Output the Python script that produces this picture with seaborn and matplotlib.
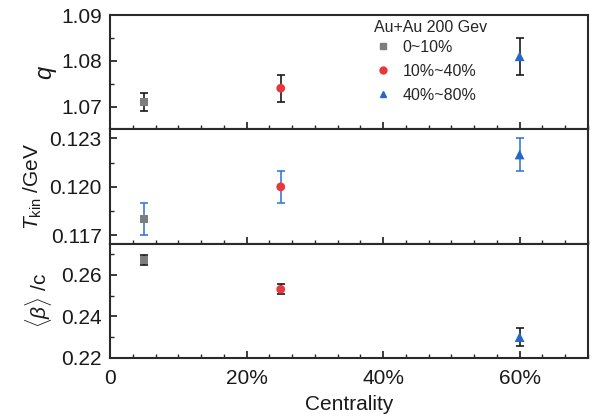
import numpy as np
import pandas as pd
import seaborn as sns
import matplotlib.pyplot as plt
from matplotlib.ticker import MultipleLocator, FixedLocator, FuncFormatter

sns.set_style("ticks")
plt.rcParams['font.family'] = ['Liberation Sans', 'DejaVu Sans']
plt.rcParams['mathtext.fontset'] = 'custom'
plt.rcParams['mathtext.rm'] = 'Liberation Sans'
plt.rcParams['mathtext.it'] = 'Liberation Sans:italic'

# Centrality classes and fit parameters
groups = ["0~10%", "10%~40%", "40%~80%"]
centrality = [5, 25, 60]
q_val = [1.071, 1.074, 1.081]
q_err = [0.002, 0.003, 0.004]
tkin_val = [0.118, 0.120, 0.122]
tkin_err = [0.001, 0.001, 0.001]
beta_val = [0.267, 0.253, 0.230]
beta_err = [0.0025, 0.0025, 0.0045]

colors = ["#7d7d7d", "#e8383d", "#2468c8"]
markers = ["s", "o", "^"]
msizes = [32, 40, 50]

df = pd.DataFrame({"group": groups, "centrality": centrality,
                   "q": q_val, "q_err": q_err,
                   "tkin": tkin_val, "tkin_err": tkin_err,
                   "beta": beta_val, "beta_err": beta_err})

fig, axes = plt.subplots(3, 1, figsize=(5.92, 4.2), dpi=100, sharex=True)
fig.subplots_adjust(left=0.186, right=0.993, top=0.964, bottom=0.148, hspace=0)

panels = [
    ("q", "q_err", "#1a1a1a", (1.065, 1.09), [1.07, 1.08, 1.09], 0.005, "%.2f",
     r"$q$", -0.108),
    ("tkin", "tkin_err", "#3a7bd5", (0.1165, 0.12355), [0.117, 0.120, 0.123], 0.0015, "%.3f",
     r"$T_{\mathrm{kin}}$ /GeV", -0.138),
    ("beta", "beta_err", "#1a1a1a", (0.22, 0.275), [0.22, 0.24, 0.26], 0.01, "%.2f",
     r"$\langle\beta\rangle$ /c", -0.118),
]

for ax, (col, ecol, ecolor, ylim, yticks, ymin, fmt, ylab, lx) in zip(axes, panels):
    ax.errorbar(df["centrality"], df[col], yerr=df[ecol], fmt="none",
                ecolor=ecolor, elinewidth=1.2, capsize=3, capthick=1.2, zorder=2)
    for i, row in df.iterrows():
        sns.scatterplot(x=[row["centrality"]], y=[row[col]], ax=ax,
                        marker=markers[i], color=colors[i], s=msizes[i],
                        edgecolor="none", zorder=3, legend=False)
    ax.set_ylim(*ylim)
    ax.yaxis.set_major_locator(FixedLocator(yticks))
    ax.yaxis.set_minor_locator(MultipleLocator(ymin))
    ax.yaxis.set_major_formatter(FuncFormatter(lambda v, p, f=fmt: f % v))
    ax.set_ylabel(ylab, fontsize=15, color="#1a1a1a")
    ax.yaxis.set_label_coords(lx, 0.5)
    ax.tick_params(axis="y", which="major", pad=6)
    ax.tick_params(axis="x", which="major", pad=8)
    ax.tick_params(axis="both", which="major", direction="in", length=5, width=1.2,
                   labelsize=15, colors="#1a1a1a", top=False, right=False)
    ax.tick_params(axis="both", which="minor", direction="in", length=3, width=1.0,
                   top=False, right=False)
    for s in ax.spines.values():
        s.set_linewidth(1.5)
        s.set_color("#2a2a2a")
        s.set_visible(True)

axes[0].set_ylabel(r"$q$", fontsize=17)

ax = axes[-1]
ax.set_xlim(0, 70)
ax.xaxis.set_major_locator(FixedLocator([0, 20, 40, 60]))
ax.xaxis.set_minor_locator(MultipleLocator(20 / 6))
ax.xaxis.set_major_formatter(FuncFormatter(lambda v, p: "0" if v == 0 else f"{v:.0f}%"))
ax.set_xlabel("Centrality", fontsize=15, color="#1a1a1a", labelpad=5)

handles = [plt.Line2D([], [], linestyle="none", marker=m, color=c, markersize=5)
           for m, c in zip(markers, colors)]
leg = axes[0].legend(handles, groups, title="Au+Au 200 Gev", loc="upper left",
                     bbox_to_anchor=(0.522, 1.08), frameon=False, fontsize=11.5,
                     title_fontsize=11.5, handletextpad=0.6, labelspacing=0.58,
                     handlelength=1.2)
leg._legend_box.align = "left"
leg._legend_box.sep = 3

fig.savefig("out.png", dpi=100)
